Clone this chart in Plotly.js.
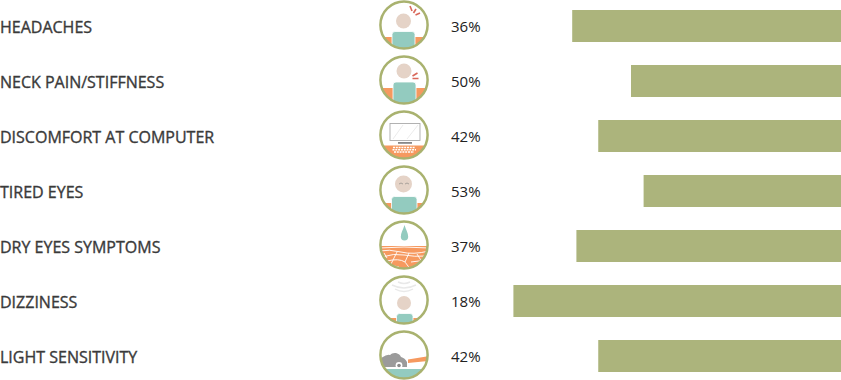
<!DOCTYPE html>
<html><head><meta charset="utf-8">
<script src="https://cdn.plot.ly/plotly-3.0.1.min.js"></script>
<style>html,body{margin:0;padding:0;background:#fff}#c{width:841px;height:380px}
.annotation:nth-child(-n+8) text{stroke:#3a3a3a;stroke-width:0.35px}</style></head>
<body><div id="c"></div>
<script>
const categories = ["HEADACHES","NECK PAIN/STIFFNESS","DISCOMFORT AT COMPUTER","TIRED EYES","DRY EYES SYMPTOMS","DIZZINESS","LIGHT SENSITIVITY"];
const percentLabels = ["36%","50%","42%","53%","37%","18%","42%"];
const barValues = [64,50,57.8,47,63,78,57.8];

const TEAL="#93cbbf", ORANGE="#f6995f", SKIN="#e5d3c7", RING="#a9b26f", RED="#d9685a";
function band(y,c){return `<rect x="0" y="${y}" width="50" height="${50-y}" fill="${c||ORANGE}"/>`;}
function body(x,y,w){return `<rect x="${x}" y="${y}" width="${w}" height="40" rx="3" fill="${TEAL}" stroke="#fff" stroke-width="0.8"/>`;}
function head(x,y,r){return `<circle cx="${x}" cy="${y}" r="${r}" fill="${SKIN}"/>`;}
function ln(a,b,c,d,col,w){return `<line x1="${a}" y1="${b}" x2="${c}" y2="${d}" stroke="${col}" stroke-width="${w}" stroke-linecap="butt"/>`;}
const iconParts = [
  band(37)+body(13,31.5,23)+head(24.5,21,7.5)+ln(31,6,33,11,RED,1.6)+ln(37,9,34.5,13,RED,1.6)+ln(41,13,36.5,15,RED,1.6),
  band(33)+body(14,27,23)+head(25,16,7.5)+ln(33.5,21,38.5,18,RED,1.6)+ln(33.5,23.5,39.5,23.5,RED,1.6),
  band(35.5)+`<rect x="11" y="13.5" width="30" height="17" fill="#fff" stroke="#aaa" stroke-width="0.9"/>`
    +ln(14,29,24,15,"#e6e6e6",0.8)+ln(28,29,39,15,"#e6e6e6",0.8)
    +`<rect x="19" y="32" width="14" height="1.8" fill="#888"/>`
    +`<path d="M14 37.6H36M13.5 39.8H37M15 42H35" stroke="#fff" stroke-width="1.5" stroke-dasharray="2 0.8"/>`,
  band(38)+body(12.5,31.5,25.5)+head(24.5,19,8.5)+`<path d="M20 19q2-2 4 0M26 19q2-2 4 0" fill="none" stroke="#a09a94" stroke-width="0.9"/>`,
  band(26)+`<path d="M25.5 5C24 10 21.8 13 21.8 16.8a3.7 3.7 0 0 0 7.4 0C29.2 13 27 10 25.5 5Z" fill="${TEAL}"/>`
    +`<path d="M0 28Q25 26 50 28M0 31Q10 29 22 32T50 31M3 37Q15 33 25 35T48 36M18 32L12 44M30 33L26 42T32 50M38 34L43 42M8 41Q20 38 26 42M32 42Q40 40 47 42M10 45L20 47M5 33L8 38" fill="none" stroke="#fff" stroke-width="0.9"/>`,
  band(43)+body(17.5,38.5,16.5)+head(25,28,7)+`<path d="M13 10Q25 16 37 10M16 14Q25 19 34 14M19 7Q25 10 31 7" fill="none" stroke="#e9e9e9" stroke-width="1.4"/>`,
  band(39,TEAL)+`<path d="M3 37V27.5Q8 24 11 25Q13 22.5 17 23Q21 24 22 27Q26 28 28 32L28 37Z" fill="#9b9b9b"/><circle cx="20" cy="35.5" r="3.4" fill="#fff"/><circle cx="20" cy="35.5" r="1.8" fill="#8a8a8a"/>`
    +`<path d="M29 29.5L50 26V31L29 33Z" fill="${ORANGE}"/>`
];
function iconUri(p,i){
  const svg=`<svg xmlns="http://www.w3.org/2000/svg" width="50" height="50" viewBox="0 0 50 50"><defs><clipPath id="k${i}"><circle cx="25" cy="25" r="23.5"/></clipPath></defs><circle cx="25" cy="25" r="23.5" fill="#fff"/><g clip-path="url(#k${i})">${p}</g><circle cx="25" cy="25" r="23.6" fill="none" stroke="${RING}" stroke-width="2.5"/></svg>`;
  return "data:image/svg+xml;charset=utf-8,"+encodeURIComponent(svg);
}
const W=841,H=380,pitch=55,firstY=26;
const FONT='"Open Sans","Noto Sans",sans-serif';
const labelAnn=categories.map(c=>({xref:"paper",yref:"y",x:0,y:c,text:c,showarrow:false,xanchor:"left",yanchor:"middle",xshift:-2,yshift:-1,
  font:{family:FONT,size:16,color:"#3a3a3a"}}));
const pctAnn=categories.map((c,i)=>({xref:"paper",yref:"y",x:451/W,y:c,text:percentLabels[i],showarrow:false,xanchor:"left",yanchor:"middle",xshift:-2,
  font:{family:FONT,size:15,color:"#222"}}));
const images=iconParts.map((p,i)=>({source:iconUri(p,i),xref:"paper",yref:"y",x:404/W,y:i-1/pitch,sizex:50/W,sizey:50/pitch,xanchor:"center",yanchor:"middle",sizing:"stretch",layer:"above"}));
Plotly.newPlot("c",[{type:"bar",orientation:"h",y:categories,x:barValues,width:32/pitch,marker:{color:"#acb47c",line:{width:0}},hoverinfo:"skip"}],{
  width:W,height:H,margin:{l:0,r:0,t:0,b:0},paper_bgcolor:"#fff",plot_bgcolor:"#fff",showlegend:false,
  xaxis:{range:[W/4.2,0],visible:false,fixedrange:true},
  yaxis:{type:"category",categoryorder:"array",categoryarray:categories,range:[(H-firstY)/pitch,-firstY/pitch],visible:false,fixedrange:true},
  annotations:labelAnn.concat(pctAnn),images:images
},{displayModeBar:false,staticPlot:true});
</script></body></html>
